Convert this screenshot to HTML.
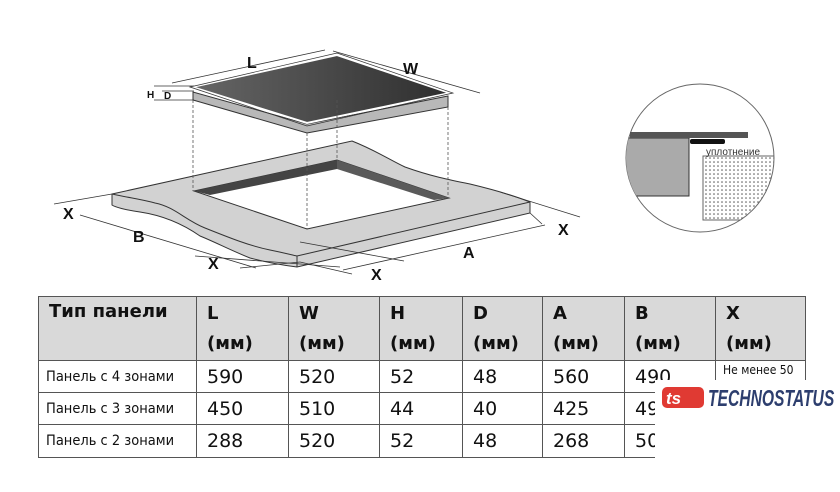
<!DOCTYPE html>
<html><head><meta charset="utf-8"><style>
body{margin:0;width:840px;height:492px;background:#fff;overflow:hidden;position:relative;font-family:"Liberation Sans",sans-serif}
table{position:absolute;left:38px;top:296px;border-collapse:collapse;font-family:"DejaVu Sans","Liberation Sans",sans-serif;table-layout:fixed;width:767px}
td{border:1px solid #555;padding:0 0 0 10px;vertical-align:middle;font-size:19px;color:#111;overflow:hidden;white-space:nowrap;box-sizing:border-box}
tr.h td{background:#d9d9d9;font-weight:bold;font-size:18px;vertical-align:top;line-height:30px;padding-top:2px;height:64px}
tr.h td.t{font-size:18px;line-height:26px;padding-top:2px}
td.n{font-size:14.5px;padding-left:7px;font-family:"DejaVu Sans Condensed","DejaVu Sans",sans-serif}
td.s{font-size:12px;vertical-align:top;padding-top:2px}
</style></head><body>
<svg width="840" height="292" style="position:absolute;left:0;top:0" font-family="Liberation Sans" font-weight="bold">
<defs><linearGradient id="g" x1="0" x2="1"><stop offset="0" stop-color="#666"/><stop offset="1" stop-color="#2e2e2e"/></linearGradient>
<pattern id="dots" width="4" height="4" patternUnits="userSpaceOnUse"><circle cx="2" cy="2" r="0.8" fill="#555"/></pattern>
<clipPath id="cc"><circle cx="700" cy="158" r="74"/></clipPath></defs>
<path d="M112,194 L352,141 C375,150 390,160 405,167 C430,176 450,180 470,184 C495,190 515,196 530,202 L530,213 L297,267 L297,267 C280,265 265,262 250,258 C230,250 215,242 200,236 C180,222 160,215 140,212 C125,210 115,207 112,205 Z" fill="#d2d2d2" stroke="#333" stroke-width="1"/>
<path d="M112,194 C130,198 140,199 155,203 C175,207 185,220 205,228 C230,238 250,246 270,250 C285,253 292,255 297,256 L530,202" fill="none" stroke="#333"/>
<line x1="297" y1="256" x2="297" y2="267" stroke="#333"/>
<polygon points="194,191 337,160 449,198 307,229" fill="#fff" stroke="#333"/>
<polygon points="194,191 337,160 337,169 210,195" fill="#444"/>
<polygon points="337,160 449,198 434,200 337,169" fill="#5a5a5a"/>
<polygon points="193,92 193,100 307,133 448,107 448,96 307,124" fill="#b8b8b8" stroke="#333"/>
<polygon points="192,87 337,55 450,93 307,123" fill="url(#g)" stroke="#fff" stroke-width="2"/>
<polygon points="190,87 337,53 453,93 307,126" fill="none" stroke="#333" stroke-width="0.7"/>
<g stroke="#555" stroke-dasharray="3,2" fill="none" stroke-width="0.8">
<line x1="193" y1="100" x2="193" y2="191"/><line x1="307" y1="133" x2="307" y2="229"/><line x1="448" y1="107" x2="448" y2="198"/><line x1="337" y1="100" x2="337" y2="160"/></g>
<g stroke="#333" stroke-width="0.8" fill="none">
<line x1="172" y1="83" x2="325" y2="50"/><line x1="333" y1="51" x2="480" y2="93"/>
<line x1="54" y1="204" x2="112" y2="194"/>
<line x1="80" y1="215" x2="256" y2="268"/>
<line x1="195" y1="256" x2="340" y2="267"/>
<line x1="240" y1="268" x2="300" y2="262"/>
<line x1="300" y1="262" x2="352" y2="274"/>
<line x1="343" y1="270" x2="545" y2="225"/>
<line x1="404" y1="261" x2="300" y2="242"/>
<line x1="500" y1="192" x2="580" y2="217"/>
<line x1="530" y1="213" x2="542" y2="224"/>
<line x1="154" y1="86" x2="194" y2="86"/><line x1="154" y1="100" x2="194" y2="100"/><line x1="162" y1="91" x2="194" y2="91"/></g>
<g font-size="16" fill="#111">
<text x="247" y="68">L</text><text x="403" y="74">W</text><text x="147" y="98" font-size="10">H</text><text x="164" y="99" font-size="10">D</text>
<text x="63" y="219">X</text><text x="133" y="242">B</text><text x="208" y="269">X</text><text x="371" y="280">X</text><text x="463" y="258">A</text><text x="558" y="235">X</text></g>
<circle cx="700" cy="158" r="74" fill="#fff" stroke="#666"/>
<g clip-path="url(#cc)">
<rect x="600" y="138" width="89" height="58" fill="#aaa" stroke="#333"/>
<rect x="703" y="156" width="80" height="64" fill="url(#dots)" stroke="#666"/>
</g>
<rect x="630" y="132" width="118" height="6" fill="#555"/>
<rect x="690" y="139" width="35" height="5" rx="2" fill="#111"/>
<text x="706" y="155" font-size="10" font-weight="normal" fill="#333">уплотнение</text>
</svg>
<table>
<colgroup><col style="width:158px"><col style="width:92px"><col style="width:91px"><col style="width:83px"><col style="width:80px"><col style="width:82px"><col style="width:91px"><col style="width:90px"></colgroup>
<tr class="h"><td class="t">Тип панели</td><td>L<br>(мм)</td><td>W<br>(мм)</td><td>H<br>(мм)</td><td>D<br>(мм)</td><td>A<br>(мм)</td><td>B<br>(мм)</td><td>X<br>(мм)</td></tr>
<tr style="height:32px"><td class="n">Панель с 4 зонами</td><td>590</td><td>520</td><td>52</td><td>48</td><td>560</td><td>490</td><td class="n s">Не менее 50</td></tr>
<tr style="height:32px"><td class="n">Панель с 3 зонами</td><td>450</td><td>510</td><td>44</td><td>40</td><td>425</td><td>490</td><td></td></tr>
<tr style="height:33px"><td class="n">Панель с 2 зонами</td><td>288</td><td>520</td><td>52</td><td>48</td><td>268</td><td>500</td><td></td></tr>
</table>
<div style="position:absolute;left:655px;top:380px;width:185px;height:112px;background:#fff"></div>
<svg width="44" height="22" style="position:absolute;left:662px;top:387px"><rect x="0" y="0" width="42" height="21" rx="5" fill="#e03a33"/><text x="4" y="17" font-size="17" font-weight="bold" fill="#fff" font-style="italic" font-family="Liberation Sans">ts</text></svg>
<div style="position:absolute;left:708px;top:385px;font-size:23px;font-weight:bold;font-style:italic;color:#2d3e6e;transform:scaleX(0.68);transform-origin:left top;white-space:nowrap">TECHNOSTATUS</div>
</body></html>
